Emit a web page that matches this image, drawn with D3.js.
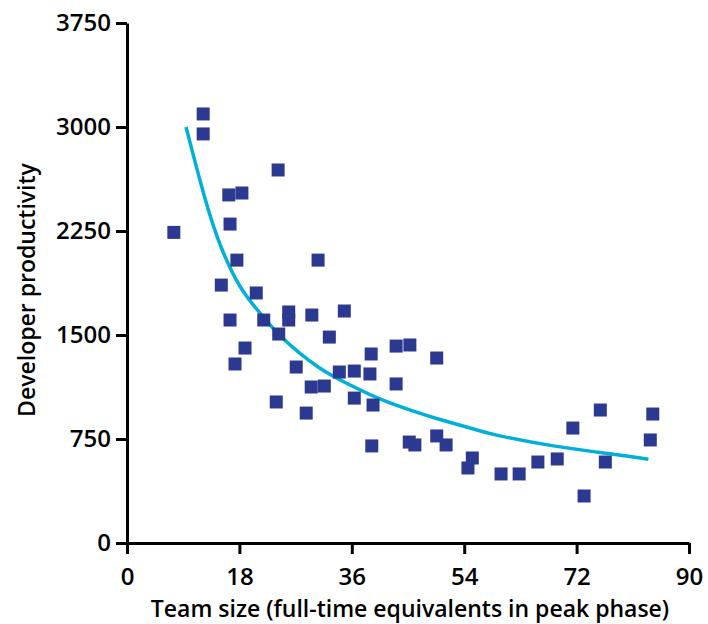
<!DOCTYPE html>
<html>
<head>
<meta charset="utf-8">
<script src="https://cdn.jsdelivr.net/npm/d3@7"></script>
<style>
  html, body { margin: 0; padding: 0; background: #fff; }
  svg text { font-family: "Open Sans", "Noto Sans", sans-serif; font-weight: 600; fill: #000; }
</style>
</head>
<body>
<svg id="chart" width="708" height="624"></svg>
<script>
// Team size (FTE in peak phase) for each project
const teamSize = [7.5, 12.2, 12.2, 16.3, 18.4, 24.2, 16.5, 17.6, 15.1, 20.7,
  16.5, 21.9, 25.9, 25.9, 24.3, 29.6, 30.6, 34.8, 32.4, 18.9,
  17.3, 27.1, 34.0, 36.4, 29.5, 31.6, 39.1, 38.9, 36.4, 39.4,
  23.9, 28.7, 39.2, 43.1, 45.3, 43.1, 49.6, 49.6, 51.1, 45.2,
  46.1, 54.6, 55.3, 59.9, 62.8, 65.8, 68.9, 71.4, 73.2, 75.8,
  76.6, 83.8, 84.2];
// Developer productivity for each project
const productivity = [2240, 3094, 2950, 2510, 2524, 2690, 2300, 2040, 1860, 1803,
  1608, 1608, 1666, 1608, 1507, 1644, 2040, 1673, 1485, 1406,
  1291, 1269, 1233, 1240, 1125, 1132, 1363, 1219, 1045, 995,
  1017, 937, 700, 1420, 1428, 1147, 1334, 772, 707, 728,
  707, 541, 613, 498, 498, 584, 606, 829, 339, 959,
  584, 743, 930];
// Trend curve
const trendX = [9.45, 12.76, 14.9, 18.1, 21.83, 24.5, 30.9, 35.2, 40.5, 46.9, 48.5, 56.5, 57.6, 68.3, 78.9, 83.5];
const trendY = [3000, 2425, 2137, 1824, 1632, 1484, 1248, 1152, 1031, 935, 911, 810, 791, 694, 635, 604];
// Axis ticks
const xTicks = [0, 18, 36, 54, 72, 90];
const yTicks = [0, 750, 1500, 2250, 3000, 3750];

const svg = d3.select("#chart");
const mLeft = 127, mRight = 689, mTop = 23, mBottom = 543;

const x = d3.scaleLinear().domain([0, 90]).range([mLeft, mRight]);
const y = d3.scaleLinear().domain([0, 3750]).range([mBottom, mTop]);

// Axes
const xAxis = svg.append("g").attr("transform", `translate(0,${mBottom})`)
  .call(d3.axisBottom(x).tickValues(xTicks).tickFormat(d3.format("d"))
    .tickSize(11).tickPadding(14).tickSizeOuter(0));
const yAxis = svg.append("g").attr("transform", `translate(${mLeft},0)`)
  .call(d3.axisLeft(y).tickValues(yTicks).tickFormat(d3.format("d"))
    .tickSize(11).tickPadding(5).tickSizeOuter(0));

[xAxis, yAxis].forEach(g => {
  g.select(".domain").attr("stroke", "#000").attr("stroke-width", 3);
  g.selectAll(".tick line").attr("stroke", "#000").attr("stroke-width", 3);
  g.selectAll(".tick text").attr("font-size", 24).attr("fill", "#000")
    .style("font-family", '"Open Sans", sans-serif').style("font-weight", 600);
});

// Trend curve
const trend = trendX.map((v, i) => [v, trendY[i]]);
svg.append("path")
  .datum(trend)
  .attr("fill", "none")
  .attr("stroke", "#00B0D8")
  .attr("stroke-width", 3.5)
  .attr("d", d3.line().x(d => x(d[0])).y(d => y(d[1])).curve(d3.curveBasis));

// Points
const pts = teamSize.map((v, i) => [v, productivity[i]]);
const s = 13;
svg.append("g").selectAll("rect").data(pts).join("rect")
  .attr("x", d => x(d[0]) - s / 2)
  .attr("y", d => y(d[1]) - s / 2)
  .attr("width", s).attr("height", s)
  .attr("fill", "#2B3990");

// Axis titles
svg.append("text")
  .attr("x", 410).attr("y", 617)
  .attr("text-anchor", "middle").attr("font-size", 23)
  .text("Team size (full-time equivalents in peak phase)");
svg.append("text")
  .attr("transform", `translate(35,290) rotate(-90)`)
  .attr("text-anchor", "middle").attr("font-size", 23)
  .text("Developer productivity");
</script>
</body>
</html>
